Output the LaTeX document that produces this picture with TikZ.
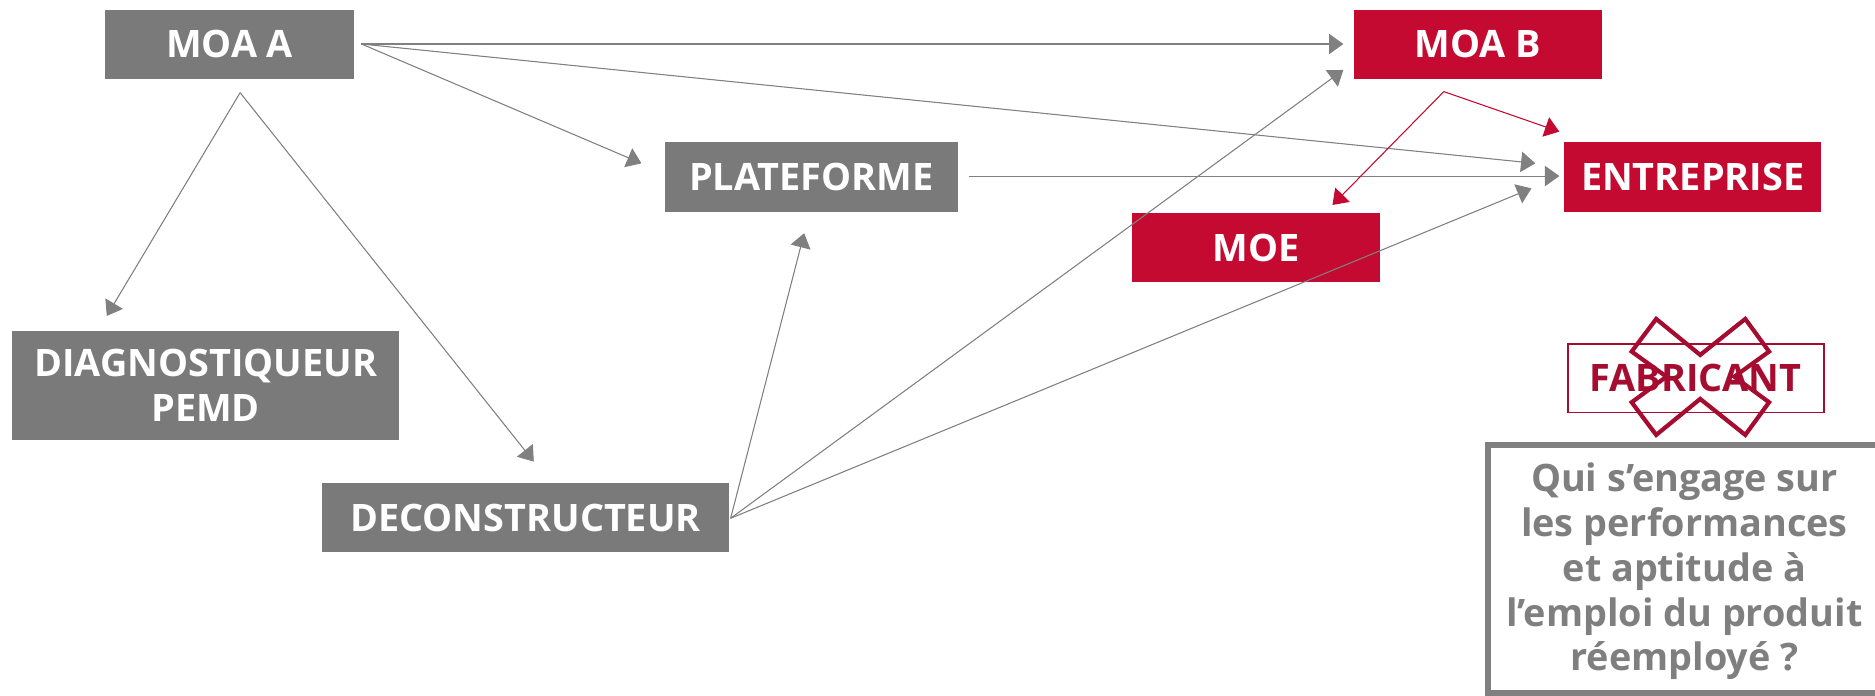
\documentclass[tikz,border=0pt]{standalone}
\usepackage{fontspec}
\setmainfont{Open Sans}
\usetikzlibrary{arrows.meta}
\definecolor{boxgray}{RGB}{122,122,122}
\definecolor{boxred}{RGB}{196,10,48}
\definecolor{maroon}{RGB}{166,12,48}
\definecolor{linegray}{RGB}{128,128,128}
\definecolor{textgray}{RGB}{127,127,127}
\tikzset{
  lbl/.style={font=\fontsize{18}{21.4}\selectfont\bfseries, align=center, inner sep=0pt},
  graybox/.style={lbl, fill=boxgray, text=white, minimum height=1.16cm},
  redbox/.style={lbl, fill=boxred, text=white, minimum height=1.16cm},
  conn/.style={draw=linegray, line width=0.5pt, -{Triangle[length=0.24cm,width=0.34cm]}, fill=linegray},
  redconn/.style={draw=boxred, line width=0.5pt, -{Triangle[length=0.24cm,width=0.34cm]}, fill=boxred},
}
\begin{document}
\begin{tikzpicture}[x=0.02cm, y=-0.02cm]
\useasboundingbox (0,0) rectangle (1568,582);
\clip (0,0) rectangle (1568,582);
% nodes
\node[graybox, minimum width=4.16cm] (moaA) at (192,37) {MOA A};
\node[redbox, minimum width=4.16cm] (moaB) at (1236,37) {MOA B};
\node[graybox, minimum width=4.9cm] (plat) at (678.5,148) {PLATEFORME};
\node[redbox, minimum width=4.3cm] (entr) at (1415.5,148) {ENTREPRISE};
\node[redbox, minimum width=4.14cm] (moe) at (1050.5,207) {MOE};
\node[graybox, minimum width=6.48cm, minimum height=1.82cm] (diag) at (172,322.5) {DIAGNOSTIQUEUR\\PEMD};
\node[graybox, minimum width=6.82cm] (decon) at (439.5,433) {DECONSTRUCTEUR};
\node[lbl, draw=maroon, line width=0.9pt, text=maroon, minimum width=4.28cm, minimum height=1.14cm] (fab) at (1418,316.5) {FABRICANT};
% cross over FABRICANT
\draw[maroon, line width=2pt, line join=miter]
  (1385,266.7) -- (1421.8,296.8) -- (1459.5,266.7) -- (1479.4,294) -- (1450.3,315)
  -- (1479.4,336.4) -- (1459.5,363.7) -- (1421.8,333.6) -- (1385,363.7) -- (1364.5,336.4)
  -- (1393.6,315) -- (1364.5,294) -- cycle;
% question box
\draw[linegray, line width=0.11cm] (1244.5,372) rectangle (1620,579.5);
\node[lbl, text=textgray] (q) at (1408.6,477.7) {Qui s’engage sur\\les performances\\et aptitude à\\l’emploi du produit\\réemployé ?};
% connector ends
\coordinate (sA) at (302.3,36.8);
\coordinate (apex) at (200.8,77.5);
\coordinate (tB) at (1123.4,36.8);
\coordinate (tE1) at (1284,136.6);
\coordinate (tP1) at (536.4,136.6);
\coordinate (tD) at (89.3,264.2);
\coordinate (tDec) at (446.4,386);
\coordinate (sP) at (810.6,147.2);
\coordinate (tE2) at (1304,147.2);
\coordinate (sDec) at (611,433.4);
\coordinate (tP2) at (672.5,195);
\coordinate (tB2) at (1123.4,58.5);
\coordinate (tE3) at (1280.7,157.5);
\coordinate (sB) at (1207.4,76.6);
\coordinate (tM) at (1114.3,171.4);
\coordinate (tE4) at (1304,110.1);
% connectors
\draw[conn] (sA) -- (tB);
\draw[conn] (sA) -- (tE1);
\draw[conn] (sA) -- (tP1);
\draw[conn] (apex) -- (tD);
\draw[conn] (apex) -- (tDec);
\draw[conn] (sP) -- (tE2);
\draw[conn] (sDec) -- (tP2);
\draw[conn] (sDec) -- (tB2);
\draw[conn] (sDec) -- (tE3);
\draw[redconn] (sB) -- (tM);
\draw[redconn] (sB) -- (tE4);
\end{tikzpicture}
\end{document}
